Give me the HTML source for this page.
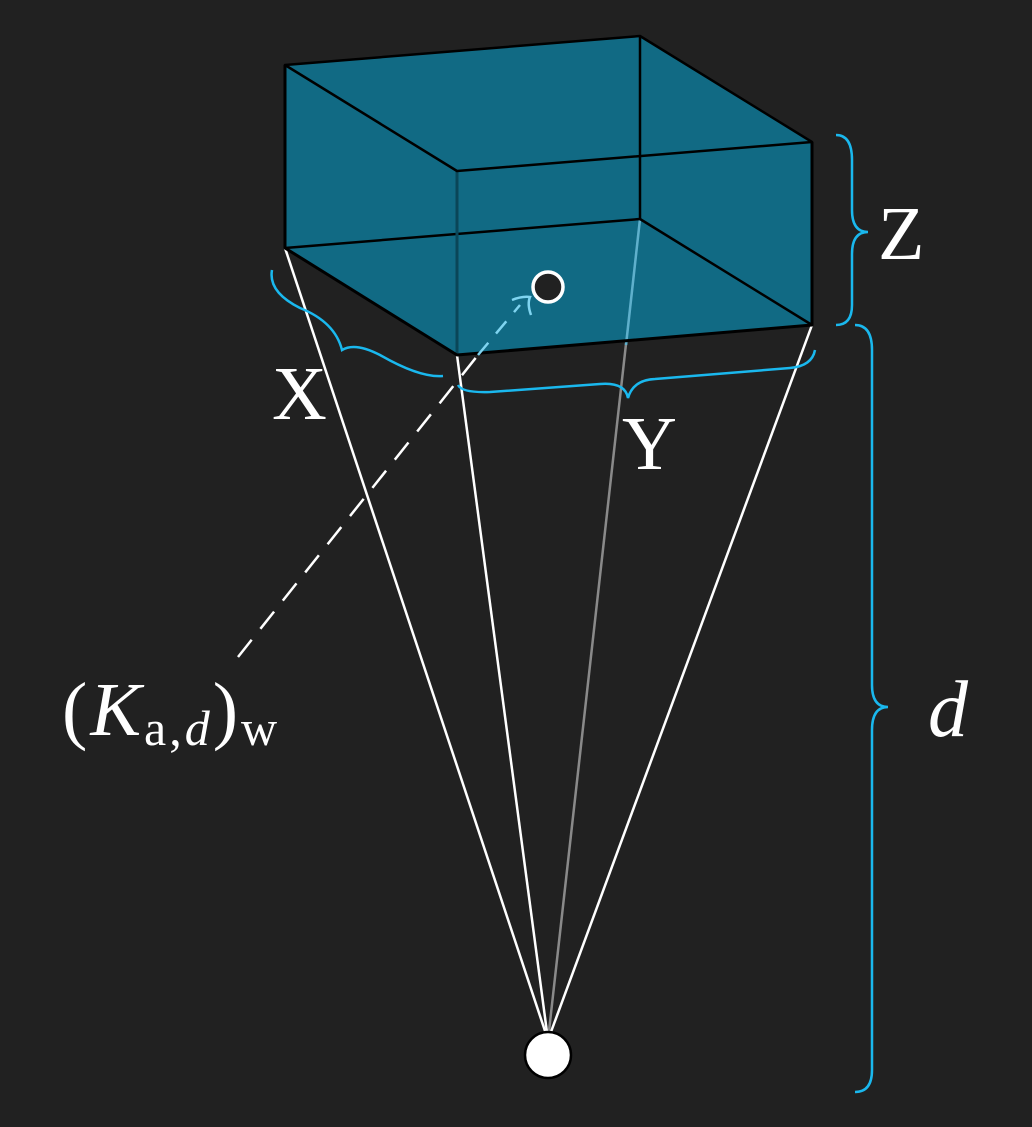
<!DOCTYPE html>
<html><head><meta charset="utf-8"><style>
html,body{margin:0;padding:0;background:#212121;}
svg{display:block}
text{font-family:"Liberation Serif",serif;fill:#fff}
</style></head><body>
<svg width="1032" height="1127" viewBox="0 0 1032 1127" xmlns="http://www.w3.org/2000/svg">
<rect width="1032" height="1127" fill="#212121"/>
<g stroke-width="2.5">
 <line x1="548" y1="1040" x2="640" y2="219" stroke="#8a8a8a"/>
 <line x1="548" y1="1040" x2="285" y2="248" stroke="#fff"/>
 <line x1="548" y1="1040" x2="457" y2="355" stroke="#fff"/>
 <line x1="548" y1="1040" x2="812" y2="325" stroke="#fff"/>
</g>
<g stroke-linejoin="round">
 <polygon points="285,65 640,36 812,142 812,325 457,355 285,248" fill="#10728f" fill-opacity="0.9"/>
 <line x1="640" y1="219" x2="626" y2="345" stroke="#5fb0cc" stroke-width="2.5"/>
 <line x1="640" y1="36" x2="640" y2="219" stroke="#000" stroke-width="2.5"/>
 <polyline points="285,248 640,219 812,325" fill="none" stroke="#000" stroke-width="2.5"/>
 <line x1="457" y1="171" x2="457" y2="355" stroke="#0a4658" stroke-width="3"/>
 <polygon points="285,65 640,36 812,142 457,171" fill="none" stroke="#000" stroke-width="2.5"/>
 <polyline points="285,65 285,248 457,355 812,325 812,142" fill="none" stroke="#000" stroke-width="3"/>
</g>
<line x1="238" y1="657" x2="478" y2="355" stroke="#fff" stroke-width="2.5" stroke-dasharray="22,14"/>
<line x1="478" y1="355" x2="520" y2="305" stroke="#7fd4f0" stroke-width="2.5" stroke-dasharray="16,12"/>
<path d="M512,300 Q522,296 530,297 Q527,304 531,315" fill="none" stroke="#7fd4f0" stroke-width="2.5"/>
<circle cx="548" cy="287" r="15" fill="#212121" stroke="#fff" stroke-width="3.5"/>
<circle cx="548" cy="1055" r="23" fill="#fff" stroke="#000" stroke-width="2.5"/>
<g fill="none" stroke="#1ab8ee" stroke-width="2.5">
 <path d="M836,135 Q852,135 852,160 L852,210 Q852,232 868,232 Q852,232 852,254 L852,305 Q852,325 836,325"/>
 <path d="M855,325 Q872,325 872,350 L872,685 Q872,707 888,707 Q872,707 872,730 L872,1070 Q872,1092 855,1092"/>
 <path d="M272,270 Q268,292 300,308 Q335,322 342,350 Q355,342 380,355 Q420,378 443,376"/>
 <path d="M458,385 Q462,393 490,392 L600,384 Q625,382 628,398 Q633,380 655,379 L790,368 Q812,366 815,350"/>
</g>
<text x="878" y="259" font-size="76">Z</text>
<text x="272" y="419" font-size="76">X</text>
<text x="622" y="469" font-size="76">Y</text>
<text x="928" y="736" font-size="80" font-style="italic">d</text>
<text x="62" y="735" font-size="76" letter-spacing="3">(<tspan font-style="italic">K</tspan><tspan font-size="50" dy="10">a,</tspan><tspan font-size="50" font-style="italic">d</tspan><tspan dy="-10">)</tspan><tspan font-size="50" dy="10">w</tspan></text>
</svg>
</body></html>
